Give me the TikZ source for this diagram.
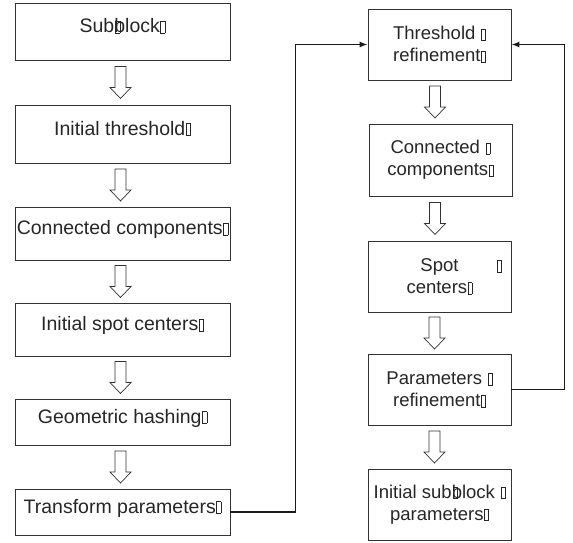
\documentclass[tikz,border=0pt]{standalone}
\usepackage{fontspec}
\setmainfont{Liberation Sans}
\usetikzlibrary{arrows.meta,calc}
\newcommand{\gb}{\kern0.6pt{\fboxsep=0pt\fboxrule=0.5pt\fbox{\rule{0pt}{0.58em}\hspace{0.2em}}}}
\tikzset{
  box/.style={draw=black!80, line width=0.8pt, inner sep=0pt, align=center, text=black!85},
  lbox/.style={box, minimum width=215pt, text height=0.72em, text depth=0.5em, font=\fontsize{19.5}{23.4}\selectfont},
  rbox/.style={box, minimum width=143pt, minimum height=71pt, font=\fontsize{18.5}{22}\selectfont},
  conn/.style={line width=1.4pt, black!90, -{Latex[length=8pt,width=6pt]}},
  harrow/.pic={\draw[line width=0.7pt, black!80, fill=white]
     (-5.5,-16) -- (5.5,-16) -- (5.5,5) -- (10.5,5) -- (0,16) -- (-10.5,5) -- (-5.5,5) -- cycle;}
}
\begin{document}
\begin{tikzpicture}[x=1pt,y=-1pt]
\useasboundingbox (0,0) rectangle (573,542);
% left column
\node[lbox, minimum height=57pt] (b1) at (122.5,31.5) {Sub\rlap{\kern0.5pt\gb}block\gb};
\node[lbox, minimum height=58pt] (b2) at (122.5,134) {Initial threshold\gb};
\node[lbox, minimum height=53pt] (b3) at (122.5,233.5) {Connected components\gb};
\node[lbox, minimum height=53pt] (b4) at (122.5,329.5) {Initial spot centers\gb};
\node[lbox, minimum height=46pt] (b5) at (122.5,422) {Geometric hashing\gb};
\node[lbox, minimum height=46pt] (b6) at (122.5,512) {Transform parameters\gb};
% right column
\node[rbox] (r1) at (439.5,44.5) {Threshold \gb\\refinement\gb};
\node[rbox, minimum height=72pt] (r2) at (440.5,160) {Connected \gb\\components\gb};
\node[rbox] (r3) at (439.5,276.5) {Spot\rlap{\hspace{38pt}\gb}\\centers\gb};
\node[rbox] (r4) at (439.5,389.5) {Parameters \gb\\refinement\gb};
\node[rbox] (r5) at (439.5,504.5) {Initial sub\rlap{\kern0.5pt\gb}block \gb\\parameters\gb};
% hollow arrows
\foreach \a/\b in {b1/b2,b2/b3,b3/b4,b4/b5,b5/b6}
  \pic at ($(\a.south)!0.5!(\b.north)+(-2,0)$) {harrow};
\foreach \a/\b in {r1/r2,r2/r3,r3/r4,r4/r5}
  \pic at ($(\a.south)!0.5!(\b.north)+(-5,0)$) {harrow};
% connectors
\draw[conn] (b6.east) -- ++(65,0) |- (r1.west);
\draw[conn] (r4.east) -- ++(53,0) |- (r1.east);
\end{tikzpicture}
\end{document}
